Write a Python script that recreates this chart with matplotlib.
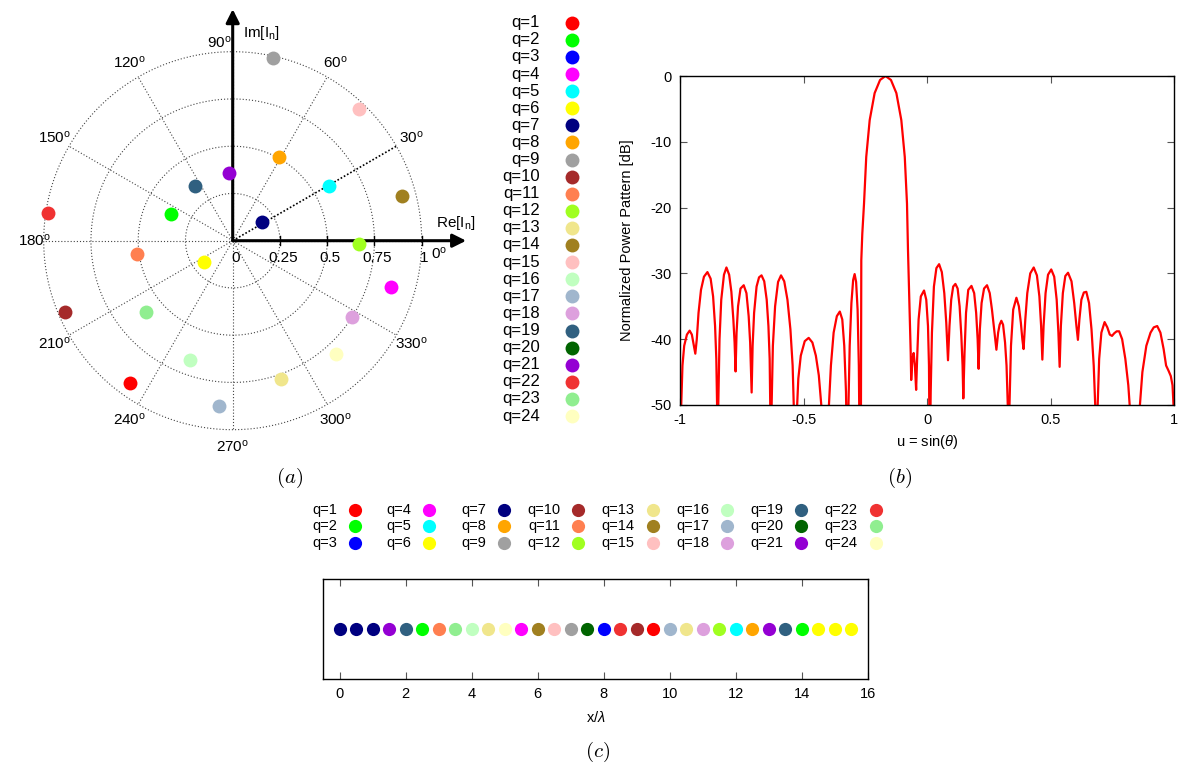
import numpy as np
import matplotlib
matplotlib.use('Agg')
import matplotlib.pyplot as plt

plt.rcParams['font.family'] = ['Liberation Sans', 'DejaVu Sans']
plt.rcParams['mathtext.fontset'] = 'custom'
plt.rcParams['mathtext.rm'] = 'Liberation Sans'
plt.rcParams['mathtext.it'] = 'Liberation Sans:italic'
plt.rcParams['axes.unicode_minus'] = False

W, H = 1184, 770

# ---------------- data ----------------
q_labels = [f'q={i}' for i in range(1, 25)]
q_colors = ['#ff0000', '#00ff00', '#0000ff', '#ff00ff', '#00ffff', '#ffff00',
            '#000080', '#ffa500', '#a0a0a0', '#a52a2a', '#ff7f50', '#a0ff20',
            '#f0e68c', '#a08020', '#ffc0c0', '#c0ffc0', '#a0b6cd', '#dda0dd',
            '#306080', '#006400', '#9400d3', '#f03232', '#90ee90', '#ffffc0']

# quantized excitations (amplitude, phase in degrees); q=3 and q=20 not visible
exc_amp = [0.927, 0.356, np.nan, 0.875, 0.588, 0.189, 0.185, 0.508, 0.988, 0.963,
           0.510, 0.670, 0.775, 0.925, 0.964, 0.670, 0.876, 0.747, 0.354, np.nan,
           0.357, 0.988, 0.591, 0.814]
exc_phase = [234.1, 156.4, np.nan, 343.6, 29.6, 217.4, 31.7, 60.9, 77.4, 202.9,
             188.2, 358.3, 289.1, 14.8, 46.1, 250.3, 265.3, 327.4, 124.6, np.nan,
             92.8, 171.6, 219.4, 312.4]

polar_angles = [0, 30, 60, 90, 120, 150, 180, 210, 240, 270, 300, 330]
ring_radii = [0.25, 0.5, 0.75, 1.0]
re_ticks = [0, 0.25, 0.5, 0.75, 1]
re_tick_labels = ['0', '0.25', '0.5', '0.75', '1']

# element positions and cluster assignment
elem_x = [0, 0.5, 1, 1.5, 2, 2.5, 3, 3.5, 4, 4.5, 5, 5.5, 6, 6.5, 7, 7.5,
          8, 8.5, 9, 9.5, 10, 10.5, 11, 11.5, 12, 12.5, 13, 13.5, 14, 14.5, 15, 15.5]
elem_q = [7, 7, 7, 21, 19, 2, 11, 23, 16, 13, 24, 4, 14, 15, 9, 20,
          3, 22, 10, 1, 17, 13, 18, 12, 5, 8, 21, 19, 2, 6, 6, 6]

# power pattern (u, dB)
pattern_u = [
    -1.000, -0.995, -0.990, -0.983, -0.972, -0.961, -0.952, -0.944, -0.938,
    -0.932, -0.925, -0.915, -0.903, -0.889, -0.876, -0.866, -0.858, -0.853, -0.849, -0.847,
    -0.845, -0.840, -0.833, -0.822, -0.812, -0.801, -0.792, -0.784, -0.779, -0.775,
    -0.771, -0.765, -0.755, -0.742, -0.731, -0.722, -0.716, -0.710,
    -0.706, -0.700, -0.690, -0.680, -0.670, -0.659, -0.649, -0.642, -0.637, -0.634, -0.632,
    -0.629, -0.624, -0.615, -0.603, -0.591, -0.578, -0.565, -0.553, -0.544, -0.538, -0.533,
    -0.528, -0.521, -0.511, -0.495, -0.479, -0.464, -0.450, -0.438, -0.428, -0.418,
    -0.405, -0.397, -0.389, -0.378, -0.365, -0.353, -0.343, -0.335, -0.328, -0.323,
    -0.319, -0.313, -0.306, -0.299, -0.293, -0.287, -0.281, -0.276, -0.272,
    -0.268, -0.267, -0.266, -0.262, -0.255, -0.246, -0.232, -0.212, -0.190, -0.168,
    -0.146, -0.124, -0.104, -0.090, -0.081, -0.077, -0.071, -0.066, -0.064,
    -0.059, -0.054, -0.049, -0.044,
    -0.040, -0.034, -0.025, -0.012, -0.003, 0.004, 0.008, 0.011,
    0.015, 0.020, 0.028, 0.038, 0.049, 0.060, 0.070, 0.078, 0.085,
    0.091, 0.098, 0.106, 0.115, 0.124, 0.132, 0.139, 0.144, 0.147,
    0.152, 0.158, 0.167, 0.180, 0.191, 0.199, 0.205, 0.209,
    0.214, 0.221, 0.231, 0.243, 0.254, 0.263, 0.272, 0.281,
    0.288, 0.294, 0.301, 0.308, 0.316, 0.322, 0.327, 0.330,
    0.334, 0.340, 0.349, 0.362, 0.372, 0.380, 0.386, 0.391,
    0.398, 0.406, 0.418, 0.432, 0.445, 0.455, 0.462, 0.467,
    0.472, 0.480, 0.490, 0.503, 0.515, 0.525, 0.532, 0.537,
    0.542, 0.550, 0.560, 0.571, 0.585, 0.596, 0.605, 0.611,
    0.617, 0.625, 0.635, 0.645, 0.656, 0.666, 0.675, 0.681, 0.686,
    0.691, 0.697, 0.706, 0.719, 0.730, 0.740, 0.749, 0.758, 0.768, 0.778, 0.790, 0.803, 0.815, 0.826, 0.833,
    0.856, 0.862, 0.872, 0.888, 0.905, 0.918, 0.932, 0.945, 0.958, 0.968, 0.978, 0.987, 0.994, 0.998, 1.000]
pattern_db = [
    -62, -50, -44, -41, -39.3, -38.7, -39.3, -41, -42.2,
    -40, -36, -32.5, -30.5, -29.8, -30.8, -33.5, -38, -43, -52, -62,
    -50, -40, -34, -30.2, -29.1, -30.2, -32.8, -37, -40.5, -44.9,
    -39, -35, -32.3, -31.8, -33, -36.5, -40.5, -48.1,
    -41, -36, -32, -30.6, -30.3, -31.2, -34, -38, -43, -52, -62,
    -50, -41, -35, -31.3, -30.3, -31.2, -34, -38.5, -44, -52, -62,
    -52, -46, -42.5, -40.3, -39.8, -40.5, -42.5, -45.5, -50, -60,
    -60, -50, -44, -39, -36.5, -35.8, -37, -41, -48, -60,
    -52, -41, -34.5, -31, -30.1, -31.3, -35.5, -44, -60,
    -60, -45, -28, -24, -19.4, -12.3, -6.7, -2.6, -0.6, 0.0,
    -0.6, -2.6, -6.7, -12.3, -19.4, -26.4, -35, -42, -46.2,
    -43, -42.1, -44, -47.7,
    -43, -37, -33.5, -32.6, -34, -38, -44, -60,
    -48, -39, -32, -29.2, -28.6, -29.8, -33, -37.5, -43.2,
    -38, -34, -32, -31.6, -32.3, -35, -39.5, -44, -49,
    -42, -36, -32.5, -31.9, -33, -36, -40, -44.5,
    -38.5, -34.5, -32.3, -31.8, -33, -35.5, -38.5, -41.6,
    -39, -37.8, -37.2, -37.8, -40.5, -44, -50, -62,
    -50, -41, -35.5, -33.7, -35, -37.5, -40, -41.5,
    -37, -33, -30, -29.1, -30.3, -33.5, -38, -43.1,
    -38, -33, -30.2, -29.4, -30.5, -34, -39, -44.2,
    -38, -33, -30.4, -29.9, -31.2, -34.5, -38, -40.1,
    -37, -34, -32.9, -32.8, -34.5, -38.5, -44, -50, -62,
    -50, -43, -39, -37.4, -38.2, -39.3, -39.5, -39.1, -38.8, -38.8, -40, -43, -47, -53, -62,
    -62, -50, -45, -41, -39, -38.2, -38.0, -39, -41.5, -44, -44.8, -45.6, -47, -50, -53]

# ---------------- figure ----------------
fig = plt.figure(figsize=(W / 100, H / 100), dpi=100)


def px_axes(left, top, width, height, **kw):
    return fig.add_axes([left / W, (H - top - height) / H, width / W, height / H], **kw)


# ---- panel (a): complex plane ----
S = 189.0
cx, cy = 232.7, 240.7
xl, xr, yb, yt = -1.2, 1.3, -1.2, 1.25
axa = px_axes(cx + xl * S, cy - yt * S, (xr - xl) * S, (yt - yb) * S)
axa.set_xlim(xl, xr)
axa.set_ylim(yb, yt)
axa.axis('off')

th = np.linspace(0, 2 * np.pi, 400)
for r in ring_radii:
    axa.plot(r * np.cos(th), r * np.sin(th), ls=(0, (1, 1.8)), color='#444444', lw=0.8)
for ang in polar_angles:
    a = np.deg2rad(ang)
    if ang == 30:
        axa.plot([0, np.cos(a)], [0, np.sin(a)], ls=(0, (1, 1.2)), color='black', lw=1.2)
    else:
        axa.plot([0, np.cos(a)], [0, np.sin(a)], ls=(0, (1, 1.8)), color='#444444', lw=0.8)

arrow_kw = dict(arrowstyle='-|>', lw=2.2, color='black', mutation_scale=20,
                shrinkA=0, shrinkB=0)
axa.annotate('', xy=(1.235, 0), xytext=(0, 0), arrowprops=arrow_kw)
axa.annotate('', xy=(0, 1.225), xytext=(0, 0), arrowprops=arrow_kw)
for t, lab in zip(re_ticks, re_tick_labels):
    if t > 0:
        axa.plot([t, t], [-0.025, 0.025], color='black', lw=1)
    axa.text(t + 0.015, -0.09, lab, ha='center', va='center', fontsize=11)
axa.text(1.18, 0.095, r'Re[I$_{\rm n}$]', ha='center', va='center', fontsize=11)
axa.text(0.15, 1.10, r'Im[I$_{\rm n}$]', ha='center', va='center', fontsize=11)
for ang in polar_angles:
    a = np.deg2rad(ang)
    rr = 1.09
    x, y = rr * np.cos(a), rr * np.sin(a)
    if ang == 90:
        x -= 0.07
        y -= 0.04
    if ang == 0:
        y -= 0.07
    if ang == 180:
        x += 0.04
    axa.text(x, y, f'{ang}' + r'$^{\rm o}$', ha='center', va='center', fontsize=11)

for amp, ph, col in zip(exc_amp, exc_phase, q_colors):
    a = np.deg2rad(ph)
    axa.plot(amp * np.cos(a), amp * np.sin(a), 'o', color=col, ms=10, mew=0,
             zorder=5, clip_on=False)

# ---- overlay for legends and panel labels ----
ov = fig.add_axes([0, 0, 1, 1])
ov.set_xlim(0, W)
ov.set_ylim(H, 0)
ov.axis('off')

for i, (lab, col) in enumerate(zip(q_labels, q_colors)):
    y = 22.7 + i * 17.1
    ov.text(540, y, lab, ha='right', va='center', fontsize=12)
    ov.plot(572, y, 'o', color=col, ms=10, mew=0)

for i, (lab, col) in enumerate(zip(q_labels, q_colors)):
    c, r = divmod(i, 3)
    y = 510 + r * 16.3
    xm = 355 + c * 74.4
    ov.text(xm - 18, y, lab, ha='right', va='center', fontsize=10.5)
    ov.plot(xm, y, 'o', color=col, ms=9.5, mew=0)

ov.text(290, 478, r'$(a)$', ha='center', va='center', fontsize=15, math_fontfamily='cm')
ov.text(900, 478, r'$(b)$', ha='center', va='center', fontsize=15, math_fontfamily='cm')
ov.text(598, 752, r'$(c)$', ha='center', va='center', fontsize=15, math_fontfamily='cm')

# ---- panel (b): power pattern ----
axb = px_axes(680, 76, 494, 329)
axb.plot(pattern_u, pattern_db, color='#ff0000', lw=1.6)
axb.set_xlim(-1, 1)
axb.set_ylim(-50, 0)
axb.set_xticks([-1, -0.5, 0, 0.5, 1])
axb.set_xticklabels(['-1', '-0.5', '0', '0.5', '1'])
axb.set_yticks([0, -10, -20, -30, -40, -50])
axb.tick_params(direction='in', top=True, right=True, length=5, width=0.8,
                labelsize=10.5, pad=6, color='#555555')
axb.set_xlabel(r'u = sin($\theta$)', fontsize=10.5)
axb.set_ylabel('Normalized Power Pattern [dB]', fontsize=10.5)
axb.xaxis.set_label_coords(0.5, -0.085)
axb.yaxis.set_label_coords(-0.094, 0.5)
for s in axb.spines.values():
    s.set_linewidth(1.0)

# ---- panel (c): array layout ----
axc = px_axes(323, 579, 545, 100)
for x, q in zip(elem_x, elem_q):
    axc.plot(x, 0, 'o', color=q_colors[q - 1], ms=9.5, mew=0)
axc.set_xlim(-0.5, 16)
axc.set_ylim(-1, 1)
axc.set_yticks([])
axc.set_xticks(range(0, 17, 2))
axc.tick_params(direction='in', top=True, length=5, width=0.8, labelsize=10.5,
                pad=6, color='#555555')
axc.set_xlabel(r'x/$\lambda$', fontsize=10.5)
axc.xaxis.set_label_coords(0.5, -0.31)
for s in axc.spines.values():
    s.set_linewidth(1.0)

fig.savefig('out.png', dpi=100)
